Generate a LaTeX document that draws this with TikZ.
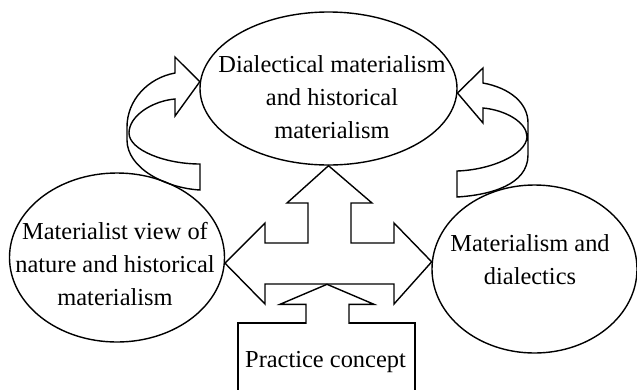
\documentclass[tikz,border=0pt]{standalone}
\usepackage{fontspec}
\setmainfont{Liberation Serif}
\usepackage{tikz}
\usetikzlibrary{shapes.geometric}

\tikzset{
	bubble/.style={draw, ellipse, inner sep=0pt},
	txt/.style={align=center, inner sep=0pt, font=\fontsize{24.5}{33}\selectfont}
}

\begin{document}
\begin{tikzpicture}[x=1bp, y=-1bp, line width=1.4bp]
	\useasboundingbox (0,0) rectangle (637,389);

	% Ellipses and box
	\node[bubble, minimum width=257bp, minimum height=153bp] (dm) at (328.5,88.5) {};
	\node[bubble, minimum width=215bp, minimum height=169bp] (mv) at (117,257.5) {};
	\node[bubble, minimum width=205bp, minimum height=168bp] (md) at (534.5,269) {};
	\node[draw, minimum width=177bp, minimum height=74bp, inner sep=0pt] (pc) at (326.5,360) {};

	% Texts
	\node[txt] (dmt) at (332,97) {Dialectical materialism\\and historical\\materialism};
	\node[txt] (mvt) at (115,264) {Materialist view of\\nature and historical\\materialism};
	\node[txt] (mdt) at (530,260) {Materialism and\\dialectics};
	\node[txt] (pct) at (325.5,362) {Practice concept};

	% Curved arrows
	\draw (dm.177) -- (175,57) -- (175,73) .. controls (148,78) and (127,100) .. (127,127) -- (127,140)
		.. controls (127,168) and (165,188) .. (200,190) -- (200,164)
		.. controls (165,164) and (129,150) .. (129,133) .. controls (129,116) and (152,101) .. (175,99)
		-- (175,116) -- cycle;
	\draw (dm.-2) -- (483,68) -- (483,83) .. controls (510,88) and (528,103) .. (528,123) -- (528,155)
		.. controls (528,185) and (490,195) .. (457,197) -- (457,171)
		.. controls (490,170) and (526,155) .. (527,137) .. controls (527,122) and (505,110) .. (483,108)
		-- (483,123) -- cycle;

	% Practice arrow
	\filldraw[fill=white] ([xshift=-20.5bp, yshift=-1.5bp]pc.north) -- ++(0,-19.5) -- ++(-26,0) -- ++(47,-20)
		-- ++(47,20) -- ++(-25,0) -- ++(0,19.5);

	% Cross arrow
	\draw (mv.-3) -- (265,223) -- (265,243) -- (308,243) -- (308,203) -- (287,203) -- (dm.south)
		-- (372,203) -- (351,203) -- (351,243) -- (394,243) -- (394,223) -- (md.176.6)
		-- (394,304) -- (394,284) -- (265,284) -- (265,304) -- cycle;
\end{tikzpicture}
\end{document}
